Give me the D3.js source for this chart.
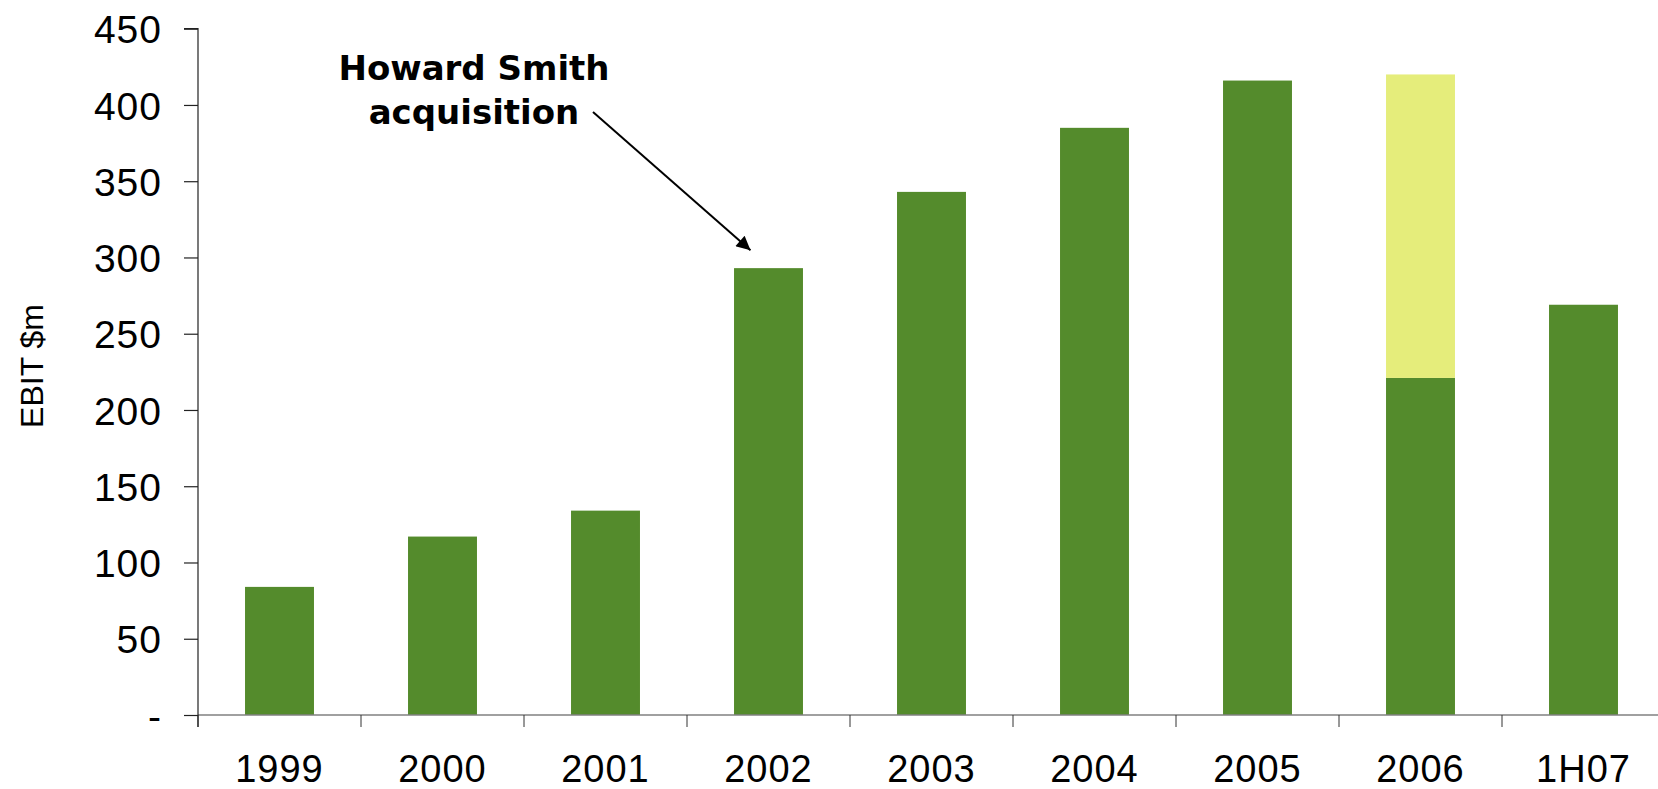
<!DOCTYPE html>
<html>
<head>
<meta charset="utf-8">
<script src="https://cdn.jsdelivr.net/npm/d3@7"></script>
<style>
  html, body { margin: 0; padding: 0; background: #fff; }
  svg { display: block; }
</style>
</head>
<body>
<svg id="chart" width="1658" height="789"></svg>
<script>
// Data
const categories = ["1999", "2000", "2001", "2002", "2003", "2004", "2005", "2006", "1H07"];
const ebitBase = [84, 117, 134, 293, 343, 385, 416, 221, 269];
const ebitExtra = [0, 0, 0, 0, 0, 0, 0, 199, 0];
const yTicks = [0, 50, 100, 150, 200, 250, 300, 350, 400, 450];

const COLORS = { base: "#548B2C", extra: "#E5ED7B" };

const svg = d3.select("#chart");
const left = 198, zeroY = 715, topY = 28.7, step = 163;

const x = d3.scaleBand()
  .domain(categories)
  .range([left, left + step * categories.length])
  .paddingInner(0.577)
  .paddingOuter(0.2885);

const y = d3.scaleLinear().domain([0, 450]).range([zeroY, topY]);

// Bars
svg.append("g").selectAll("rect")
  .data(categories)
  .enter().append("rect")
  .attr("x", d => x(d))
  .attr("width", x.bandwidth())
  .attr("y", (d, i) => y(ebitBase[i]))
  .attr("height", (d, i) => zeroY - y(ebitBase[i]))
  .attr("fill", COLORS.base);

svg.append("g").selectAll("rect")
  .data(categories.filter((d, i) => ebitExtra[i] > 0))
  .enter().append("rect")
  .attr("x", d => x(d))
  .attr("width", x.bandwidth())
  .attr("y", d => { const i = categories.indexOf(d); return y(ebitBase[i] + ebitExtra[i]); })
  .attr("height", d => { const i = categories.indexOf(d); return y(ebitBase[i]) - y(ebitBase[i] + ebitExtra[i]); })
  .attr("fill", COLORS.extra);

// X axis line + ticks at band boundaries
svg.append("line")
  .attr("x1", left).attr("x2", 1658)
  .attr("y1", zeroY).attr("y2", zeroY)
  .attr("stroke", "#808080").attr("stroke-width", 1.5);

svg.append("g").selectAll("line")
  .data(d3.range(categories.length + 1))
  .enter().append("line")
  .attr("x1", i => left + i * step).attr("x2", i => left + i * step)
  .attr("y1", zeroY).attr("y2", zeroY + 12)
  .attr("stroke", "#333").attr("stroke-width", 1);

svg.append("g").selectAll("text")
  .data(categories)
  .enter().append("text")
  .attr("x", d => x(d) + x.bandwidth() / 2)
  .attr("y", 782)
  .attr("text-anchor", "middle")
  .attr("font-family", "Liberation Sans, Arial, sans-serif")
  .attr("font-size", 38)
  .attr("letter-spacing", 1)
  .attr("fill", "#000")
  .text(d => d);

// Y axis
const yAxis = d3.axisLeft(y)
  .tickValues(yTicks)
  .tickSize(14)
  .tickPadding(22)
  .tickFormat(d => d === 0 ? "-" : d);

const gy = svg.append("g")
  .attr("transform", `translate(${left},0)`)
  .call(yAxis);

gy.select(".domain")
  .attr("d", `M-14,${topY}H0V${zeroY + 12}`)
  .attr("stroke", "#222").attr("stroke-width", 1.2);
gy.selectAll(".tick line").attr("stroke", "#222").attr("stroke-width", 1.2);
gy.selectAll(".tick text")
  .attr("font-family", "Liberation Sans, Arial, sans-serif")
  .attr("font-size", 39)
  .attr("letter-spacing", 1)
  .attr("fill", "#000")
  .attr("dy", "0.36em");

// Y label
svg.append("text")
  .attr("transform", "translate(43,366) rotate(-90)")
  .attr("text-anchor", "middle")
  .attr("font-family", "Liberation Sans, Arial, sans-serif")
  .attr("font-size", 32)
  .attr("fill", "#000")
  .text("EBIT $m");

// Annotation
svg.append("defs").append("marker")
  .attr("id", "arrow")
  .attr("viewBox", "0 0 10 10")
  .attr("refX", 10).attr("refY", 5)
  .attr("markerWidth", 18).attr("markerHeight", 14)
  .attr("markerUnits", "userSpaceOnUse")
  .attr("orient", "auto")
  .append("path")
  .attr("d", "M0,0L10,5L0,10Z")
  .attr("fill", "#000");

const tipX = x("2002") + x.bandwidth() / 2 - 18;
const tipY = y(ebitBase[3]) - 18;

svg.append("line")
  .attr("x1", 593).attr("y1", 112)
  .attr("x2", tipX).attr("y2", tipY)
  .attr("stroke", "#000").attr("stroke-width", 2)
  .attr("marker-end", "url(#arrow)");

const note = svg.append("text")
  .attr("text-anchor", "middle")
  .attr("font-family", "DejaVu Sans, sans-serif")
  .attr("font-weight", "bold")
  .attr("font-size", 34)
  .attr("fill", "#000");
note.append("tspan").attr("x", 474).attr("y", 80).text("Howard Smith");
note.append("tspan").attr("x", 474).attr("y", 124).text("acquisition");
</script>
</body>
</html>
